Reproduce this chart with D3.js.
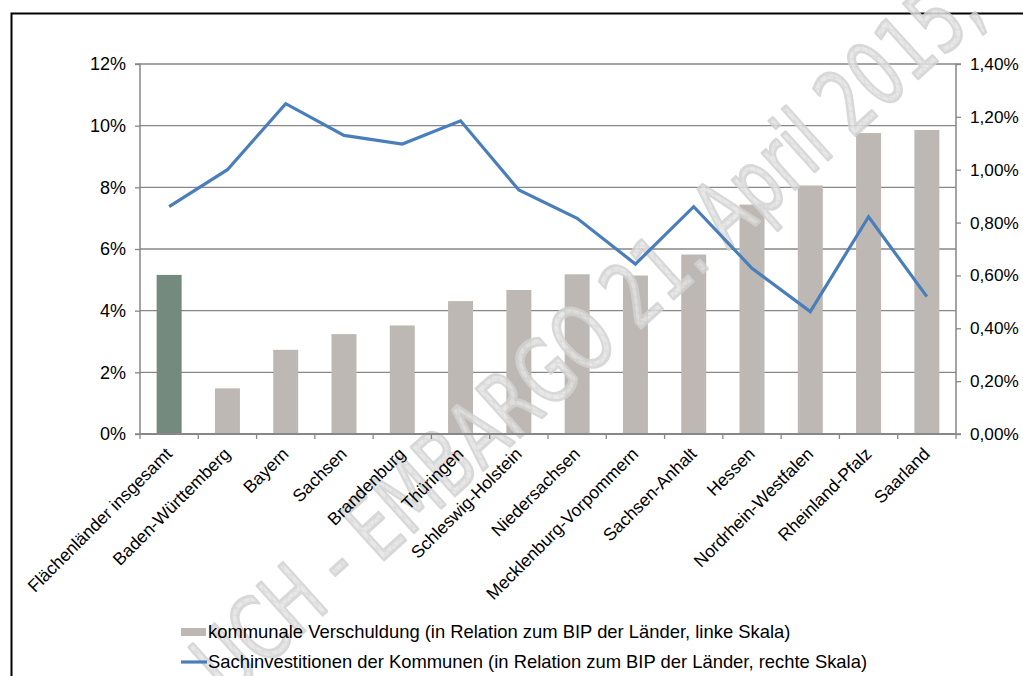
<!DOCTYPE html>
<html><head><meta charset="utf-8">
<script src="https://cdn.jsdelivr.net/npm/d3@7"></script>
<style>body{margin:0;background:#fff}svg{display:block;font-family:"Liberation Sans",Arial,sans-serif}</style>
</head><body>
<svg id="c" width="1023" height="676"></svg>
<script>
const categories = ["Flächenländer insgesamt","Baden-Württemberg","Bayern","Sachsen","Brandenburg","Thüringen","Schleswig-Holstein","Niedersachsen","Mecklenburg-Vorpommern","Sachsen-Anhalt","Hessen","Nordrhein-Westfalen","Rheinland-Pfalz","Saarland"];
const verschuldung = [5.16,1.48,2.73,3.24,3.52,4.31,4.67,5.18,5.14,5.82,7.44,8.06,9.76,9.86];
const sachinvest = [0.86,1.00,1.25,1.13,1.097,1.185,0.923,0.816,0.643,0.86,0.627,0.463,0.822,0.52];
const leftTicks = [0,2,4,6,8,10,12];
const rightTicks = [0,0.2,0.4,0.6,0.8,1.0,1.2,1.4];
const legendLabels = ["kommunale Verschuldung (in Relation zum BIP der Länder, linke Skala)","Sachinvestitionen der Kommunen (in Relation zum BIP der Länder, rechte Skala)"];
const watermark = "UCH - EMBARGO 21. April 2015,";

const svg = d3.select("#c");
const L=140,R=956,T=64,B=434;
const gridC="#878787";
const FS=18;

// hatch pattern for watermark
const defs = svg.append("defs");
const pat = defs.append("pattern").attr("id","hatch").attr("width",9).attr("height",9)
  .attr("patternUnits","userSpaceOnUse").attr("patternTransform","rotate(45)");
pat.append("rect").attr("width",9).attr("height",9).attr("fill","#e4e4e4");
pat.append("path").attr("d","M0,4.5H9M4.5,0V9").attr("stroke","#cccccc").attr("stroke-width",0.8);

// frame
svg.append("rect").attr("x",11.5).attr("y",13.5).attr("width",1030).attr("height",700).attr("fill","none").attr("stroke","#000").attr("stroke-width",2);

const xb = d3.scaleBand().domain(categories).range([L,R]);
const yL = d3.scaleLinear().domain([0,12]).range([B,T]);
const yR = d3.scaleLinear().domain([0,1.4]).range([B,T]);

// grid
svg.append("g").selectAll("line").data(leftTicks.slice(1)).join("line")
  .attr("x1",L).attr("x2",R).attr("y1",d=>yL(d)).attr("y2",d=>yL(d))
  .attr("stroke",gridC).attr("stroke-width",1.3);

// bars
svg.append("g").selectAll("rect").data(verschuldung).join("rect")
  .attr("x",(d,i)=>xb(categories[i])+xb.bandwidth()/2-12.5).attr("width",25)
  .attr("y",d=>yL(d)).attr("height",d=>B-yL(d))
  .attr("fill",(d,i)=>i===0?"#748A7F":"#BDB8B3");

// watermark
svg.append("g").attr("transform","translate(331,565) rotate(-42) scale(0.71,1)")
  .append("text").attr("x",-2.61*90).attr("y",0).attr("dy","0.35em")
  .attr("font-size",90).attr("font-family","DejaVu Sans, sans-serif")
  .attr("fill","url(#hatch)").attr("stroke","#d2d2d2").attr("stroke-width",3)
  .attr("stroke-linejoin","round").attr("opacity",0.85).text(watermark);

// axes
const axL = d3.axisLeft(yL).tickValues(leftTicks).tickFormat(d=>d+"%").tickSize(5).tickPadding(9);
const gL = svg.append("g").attr("transform",`translate(${L},0)`).call(axL);
const axR = d3.axisRight(yR).tickValues(rightTicks).tickFormat(d=>d3.format(".2f")(d).replace(".",",")+"%").tickSize(5).tickPadding(9);
const gR = svg.append("g").attr("transform",`translate(${R},0)`).call(axR);
[gL,gR].forEach(g=>{
  g.select(".domain").attr("stroke",gridC).attr("stroke-width",1.5);
  g.selectAll(".tick line").attr("stroke",gridC).attr("stroke-width",1.3);
  g.selectAll("text").attr("font-size",FS).attr("fill","#000").attr("font-family","Liberation Sans, Arial, sans-serif");
});
gR.selectAll("text").attr("font-size",17.2);
gL.select(".domain").attr("d",`M-5,${T}H0V${B}H-5`);
gR.select(".domain").attr("d",`M5,${T}H0V${B}H5`);

// x axis
const gx = svg.append("g");
gx.append("line").attr("x1",L).attr("x2",R).attr("y1",B).attr("y2",B).attr("stroke",gridC).attr("stroke-width",2);
gx.selectAll("line.t").data(d3.range(categories.length+1)).join("line").attr("class","t")
  .attr("x1",i=>L+i*xb.step()).attr("x2",i=>L+i*xb.step()).attr("y1",B).attr("y2",B+5)
  .attr("stroke",gridC).attr("stroke-width",1.3);
gx.selectAll("text").data(categories).join("text")
  .attr("transform",d=>`translate(${xb(d)+xb.bandwidth()/2+4},${B+21}) rotate(-45)`)
  .attr("text-anchor","end").attr("font-size",17.5).attr("fill","#000").text(d=>d);

// line
const line = d3.line().x((d,i)=>xb(categories[i])+xb.bandwidth()/2).y(d=>yR(d));
svg.append("path").datum(sachinvest).attr("d",line).attr("fill","none")
  .attr("stroke","#4A7EBB").attr("stroke-width",3.2).attr("stroke-linejoin","miter");

// legend
const lg = svg.append("g");
lg.append("rect").attr("x",181).attr("y",628).attr("width",25).attr("height",8).attr("fill","#BDB8B3");
lg.append("line").attr("x1",181).attr("x2",207).attr("y1",662).attr("y2",662).attr("stroke","#4A7EBB").attr("stroke-width",3.2);
lg.selectAll("text").data(legendLabels).join("text").attr("x",208).attr("y",(d,i)=>632+i*30)
  .attr("dy","0.35em").attr("font-size",18.4).attr("fill","#000").text(d=>d);
</script>
</body></html>
